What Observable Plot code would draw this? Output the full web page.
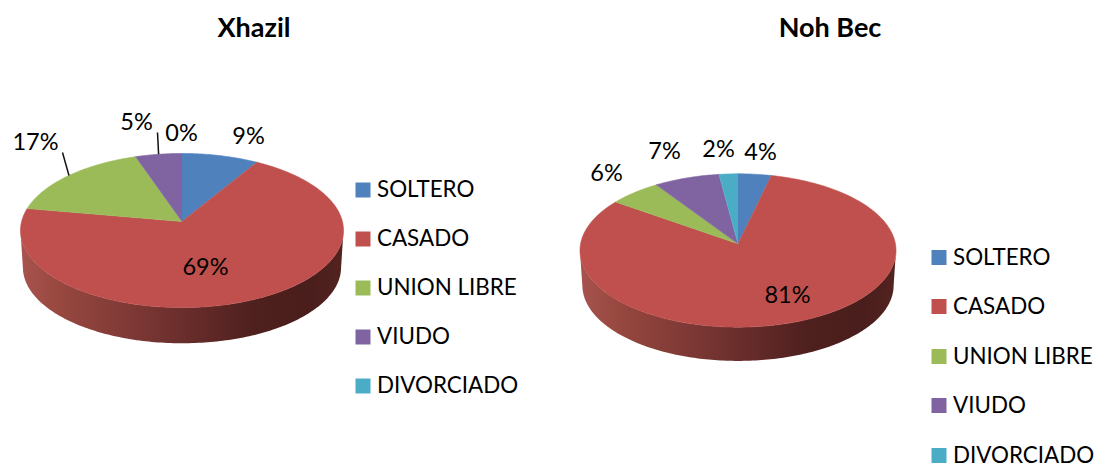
<!DOCTYPE html>
<html><head><meta charset="utf-8">
<style>html,body{margin:0;padding:0;background:#fff;overflow:hidden}svg{display:block}</style>
<script src="https://cdn.jsdelivr.net/npm/d3@7"></script>
<script src="https://cdn.jsdelivr.net/npm/@observablehq/plot@0.6"></script>
</head><body><div id="chart"></div>
<script>
// Data
const categories = ["SOLTERO", "CASADO", "UNION LIBRE", "VIUDO", "DIVORCIADO"];
const xhazilValues = [8.6, 69.2, 17, 5.2, 0];
const nohBecValues = [3.7, 81.1, 5.8, 7.3, 2.1];
const colors = ["#4f81bd", "#c0504d", "#9bbb59", "#8064a2", "#4bacc6"];
// Layout
const pies = [
  {name:"Xhazil", values:xhazilValues, cx:181.5, apexY:221, K:160.4, k:76, p:0.117, depth:37, titleX:253.5,
   legendX:355, legendY:[189.5,238.5,287.5,336.5,385.5],
   labels:[[248,136],[205,267],[35,142],[136,122],[181,133]], leaders:{2:[62,152],3:[157,132]}},
  {name:"Noh Bec", values:nohBecValues, cx:737.5, apexY:243.3, K:157.4, k:76.1, p:0.0873, depth:35, titleX:829.5,
   legendX:931, legendY:[257,306,356,405,455],
   labels:[[760,152],[787,295],[606,173],[664,151],[718,149]], leaders:{}}
];
const font = "Lato, Carlito, Calibri, sans-serif";

const project = (pie, deg, s = 1, dy = 0) => {
  const t = deg * Math.PI / 180, u = Math.sin(t), v = Math.cos(t), d = 1 + pie.p * v;
  return {x: pie.cx + s * pie.K * u / d, y: pie.apexY + dy - s * pie.k * v / d};
};
const slices = [], walls = [], leaderLinks = [], labelRows = [], legendRows = [];
for (const pie of pies) {
  const total = d3.sum(pie.values);
  let start = 0;
  pie.values.forEach((value, i) => {
    const a0 = start / total * 360, a1 = (start + value) / total * 360;
    start += value;
    const id = pie.name + i;
    if (value > 0) {
      slices.push({id, category: categories[i], x: pie.cx, y: pie.apexY});
      const n = Math.max(2, Math.ceil(a1 - a0));
      for (let j = 0; j <= n; ++j)
        slices.push({id, category: categories[i], ...project(pie, a0 + (a1 - a0) * j / n)});
    }
    if (pie.leaders[i]) {
      const m = project(pie, (a0 + a1) / 2);
      leaderLinks.push({x1: pie.leaders[i][0], y1: pie.leaders[i][1], x2: m.x, y2: m.y});
    }
    labelRows.push({x: pie.labels[i][0], y: pie.labels[i][1], text: `${Math.round(value)}%`});
    legendRows.push({category: categories[i], x: pie.legendX, y: pie.legendY[i]});
  });
  const aL = Math.acos(-pie.p) * 180 / Math.PI, aR = 360 - aL;
  const front = d3.range(aL, aR + .01, 1);
  const shrink = 0.985;
  front.forEach(a => walls.push({id: pie.name, ...project(pie, a)}));
  front.slice().reverse().forEach(a => walls.push({id: pie.name, ...project(pie, a, shrink, pie.depth)}));
}
const wallStops = [[0,"#a8534f"],[.12,"#97483f"],[.35,"#7d3835"],[.55,"#642b29"],[.72,"#4e201e"],[.9,"#4a1e1c"],[1,"#53231f"]];
const defs = () => {
  const d = d3.create("svg:defs");
  const g = d.append("linearGradient").attr("id", "wall").attr("x1", 0).attr("x2", 1).attr("y1", 0).attr("y2", 0);
  wallStops.forEach(([o, c]) => g.append("stop").attr("offset", o).attr("stop-color", c));
  return d.node();
};
const chart = Plot.plot({
  width: 1096, height: 463, margin: 0,
  x: {domain: [0, 1096], range: [0, 1096], axis: null},
  y: {domain: [0, 463], range: [0, 463], axis: null},
  color: {domain: categories, range: colors},
  style: {background: "#fff", fontFamily: font},
  marks: [
    defs,
    Plot.line(walls, {x: "x", y: "y", z: "id", fill: "url(#wall)", stroke: "none", curve: "linear"}),
    Plot.line(slices, {x: "x", y: "y", z: "id", fill: "category", stroke: "category", strokeWidth: .6, curve: "linear"}),
    Plot.link(leaderLinks, {x1: "x1", y1: "y1", x2: "x2", y2: "y2", stroke: "#111", strokeWidth: 1.5}),
    Plot.text(labelRows, {x: "x", y: "y", text: "text", fontSize: 23.5, fill: "#000", textAnchor: "middle", lineAnchor: "middle"}),
    Plot.dot(legendRows, {x: d => d.x + 7.5, y: "y", fill: "category", symbol: "square", r: 8.46, stroke: "none"}),
    Plot.text(legendRows, {x: d => d.x + 21.5, y: "y", text: "category", fontSize: 22.4, fill: "#000", textAnchor: "start", lineAnchor: "middle"}),
    Plot.text(pies, {x: "titleX", y: () => 28, text: "name", fontSize: 27, fontWeight: "bold", fill: "#000", textAnchor: "middle", lineAnchor: "middle"})
  ]
});
document.getElementById("chart").append(chart);
</script></body></html>
